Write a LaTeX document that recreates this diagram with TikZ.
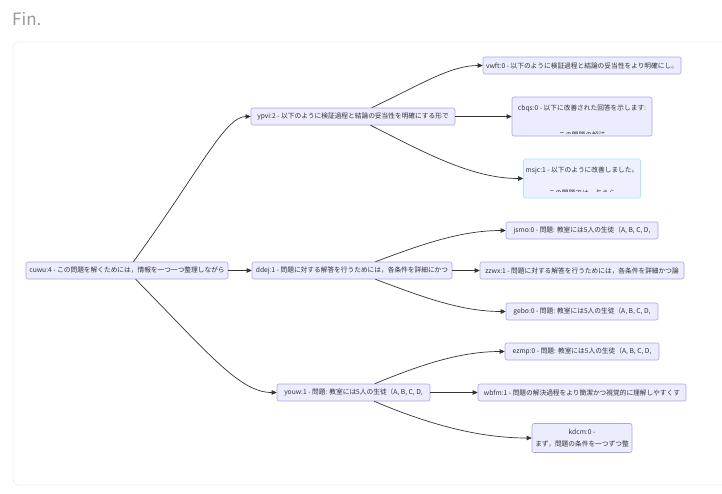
\documentclass[tikz,border=0pt]{standalone}
\usepackage{fontspec}
\setmainfont{Noto Sans CJK JP}
\usetikzlibrary{arrows.meta}
\definecolor{nodefill}{HTML}{ECECFF}
\definecolor{nodeline}{HTML}{B0A2E6}
\definecolor{cyanline}{HTML}{A6EAF4}
\definecolor{cyanfill}{HTML}{EEF0FF}
\definecolor{edgecol}{HTML}{333333}
\definecolor{txt}{HTML}{333333}
\definecolor{framecol}{HTML}{EEEEEE}
\definecolor{fincol}{HTML}{9A9A9A}
\begin{document}
\begin{tikzpicture}[x=1pt,y=-1pt,
  box/.style={draw=nodeline, fill=nodefill, rounded corners=2pt, line width=0.6pt,
    inner sep=0pt, font=\fontsize{6.7}{8}\selectfont, text=txt},
  cbox/.style={box, draw=cyanline, fill=cyanfill},
  ltxt/.style={inner sep=0pt, font=\fontsize{6.7}{8}\selectfont, text=txt},
  edge/.style={draw=edgecol, line width=0.7pt, -{Triangle[length=5pt,width=4.5pt]}},
]
\useasboundingbox (0,0) rectangle (722,493);
\fill[white] (0,0) rectangle (722,493);
\node[anchor=base west, inner sep=0pt, text=fincol, font=\fontsize{17}{20}\selectfont] (fin) at (12,25) {Fin.};
\draw[framecol, line width=0.8pt, rounded corners=5pt] (13,42) rectangle (745,485);

% nodes
\node[box, minimum width=202pt, minimum height=17pt] (cuwu) at (127,270.5) {cuwu:4 - この問題を解くためには，情報を一つ一つ整理しながら};
\node[box, minimum width=204pt, minimum height=17pt] (ypvi) at (353,116.5) {ypvi:2 - 以下のように検証過程と結論の妥当性を明確にする形で};
\node[box, minimum width=200pt, minimum height=17pt] (ddej) at (352,270.5) {ddej:1 - 問題に対する解答を行うためには，各条件を詳細にかつ};
\node[box, minimum width=153pt, minimum height=17pt] (youw) at (353.5,392.5) {youw:1 - 問題: 教室には5人の生徒（A, B, C, D,};

\node[box, minimum width=198pt, minimum height=17pt] (vwft) at (582,65.5) {vwft:0 - 以下のように検証過程と結論の妥当性をより明確にし。};
\node[box, minimum width=140pt, minimum height=39pt] (cbqs) at (582,116.5) {};
\node[ltxt] (cbqs1) at (582,108.3) {cbqs:0 - 以下に改善された回答を示します:};
\begin{scope}
  \clip (513,98) rectangle (651,133.6);
  \node[ltxt] (cbqs2) at (582,135) {この問題の解法};
\end{scope}
\node[cbox, minimum width=117pt, minimum height=39pt] (msjc) at (582,178.5) {};
\node[ltxt] (msjc1) at (582,170) {msjc:1 - 以下のように改善しました。};
\begin{scope}
  \clip (525,160) rectangle (639,191.6);
  \node[ltxt] (msjc2) at (582,193) {この問題では，与えら};
\end{scope}
\node[box, minimum width=152pt, minimum height=17pt] (jsmo) at (582,230.5) {jsmo:0 - 問題: 教室には5人の生徒（A, B, C, D,};
\node[box, minimum width=204pt, minimum height=17pt] (zzwx) at (582,270.5) {zzwx:1 - 問題に対する解答を行うためには，各条件を詳細かつ論};
\node[box, minimum width=152pt, minimum height=17pt] (gebo) at (582,311.5) {gebo:0 - 問題: 教室には5人の生徒（A, B, C, D,};
\node[box, minimum width=154pt, minimum height=17pt] (ezmp) at (582,351.5) {ezmp:0 - 問題: 教室には5人の生徒（A, B, C, D,};
\node[box, minimum width=208pt, minimum height=17pt] (wbfm) at (582,392.5) {wbfm:1 - 問題の解決過程をより簡潔かつ視覚的に理解しやすくす};
\node[box, minimum width=100pt, minimum height=29pt, align=center, font=\fontsize{6.7}{11.5}\selectfont] (kdcm) at (582,438) {kdcm:0 -\\まず，問題の条件を一つずつ整};

% edges
\draw[edge] (cuwu) .. controls (200,170) and (225,116.5) .. (ypvi.west);
\draw[edge] (cuwu) -- (ddej);
\draw[edge] (cuwu) .. controls (210,355) and (240,392.5) .. (youw.west);

\draw[edge] (ypvi) .. controls (420,85) and (450,65.5) .. (vwft.west);
\draw[edge] (ypvi) -- (cbqs);
\draw[edge] (ypvi) .. controls (420,150) and (470,178.5) .. (msjc.west);

\draw[edge] (ddej) .. controls (420,245) and (460,230.5) .. (jsmo.west);
\draw[edge] (ddej) -- (zzwx);
\draw[edge] (ddej) .. controls (420,296) and (460,311.5) .. (gebo.west);

\draw[edge] (youw) .. controls (420,365) and (460,351.5) .. (ezmp.west);
\draw[edge] (youw) -- (wbfm);
\draw[edge] (youw) .. controls (430,425) and (480,438) .. (kdcm.west);
\end{tikzpicture}
\end{document}
